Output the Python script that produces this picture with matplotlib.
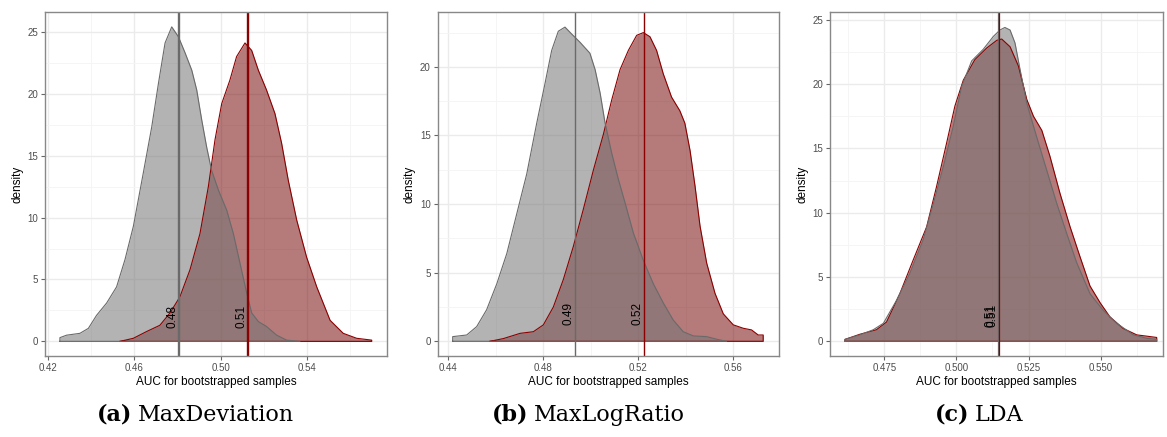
#!/usr/bin/env python3
"""Bootstrapped AUC densities for three scoring methods (grey vs. dark red)."""

import matplotlib

matplotlib.use("Agg")  # headless rendering
import matplotlib.pyplot as plt
import numpy as np


# ---- data ------------------------------------------------------------------
# (a) MaxDeviation
a_grey_x = [0.4254, 0.4285, 0.4347, 0.4386, 0.4424, 0.4471, 0.4517, 0.4556,
            0.4595, 0.4641, 0.4680, 0.4711, 0.4742, 0.4773, 0.4804, 0.4835,
            0.4866, 0.4889, 0.4912, 0.4935, 0.4958, 0.4990, 0.5028, 0.5059,
            0.5090, 0.5121, 0.5144, 0.5175, 0.5213, 0.5260, 0.5306, 0.5368]
a_grey_y = [0.3, 0.5, 0.65, 1.05, 2.1, 3.1, 4.4, 6.6,
            9.3, 13.6, 17.3, 20.8, 24.1, 25.4, 24.6, 23.3,
            21.9, 20.3, 17.9, 15.7, 13.8, 12.2, 10.6, 8.7,
            6.3, 3.9, 2.3, 1.6, 1.2, 0.5, 0.1, 0.0]
a_red_x = [0.4533, 0.4595, 0.4657, 0.4718, 0.4765, 0.4811, 0.4858, 0.4904,
           0.4943, 0.4974, 0.5005, 0.5043, 0.5074, 0.5113, 0.5144, 0.5175,
           0.5213, 0.5252, 0.5283, 0.5314, 0.5353, 0.5399, 0.5446, 0.5508,
           0.5569, 0.5631, 0.5701]
a_red_y = [0.0, 0.25, 0.8, 1.3, 2.3, 3.6, 5.8, 8.7,
           12.5, 16.3, 19.2, 21.1, 23.0, 24.1, 23.5, 21.9,
           20.3, 18.4, 16.0, 13.0, 9.8, 6.8, 4.4, 1.7,
           0.65, 0.25, 0.1]
a_means = [0.4807, 0.5127]

# (b) MaxLogRatio
b_grey_x = [0.4418, 0.4477, 0.4519, 0.4561, 0.4604, 0.4646, 0.4688, 0.4730,
            0.4772, 0.4807, 0.4835, 0.4863, 0.4891, 0.4919, 0.4954, 0.4996,
            0.5018, 0.5039, 0.5060, 0.5088, 0.5116, 0.5144, 0.5179, 0.5221,
            0.5263, 0.5305, 0.5347, 0.5389, 0.5432, 0.5488, 0.5530, 0.5572]
b_grey_y = [0.34, 0.46, 1.07, 2.3, 4.2, 6.4, 9.3, 12.2,
            15.9, 18.8, 21.2, 22.6, 22.9, 22.4, 21.8, 21.0,
            19.8, 18.1, 15.9, 13.7, 11.8, 10.1, 7.9, 5.9,
            4.2, 2.8, 1.55, 0.7, 0.39, 0.34, 0.15, 0.0]
b_red_x = [0.4575, 0.4632, 0.4702, 0.4758, 0.4800, 0.4842, 0.4884, 0.4926,
           0.4968, 0.5011, 0.5053, 0.5088, 0.5123, 0.5158, 0.5193, 0.5221,
           0.5249, 0.5277, 0.5305, 0.5340, 0.5375, 0.5396, 0.5418, 0.5439,
           0.5460, 0.5488, 0.5523, 0.5558, 0.5600, 0.5642, 0.5677, 0.5705,
           0.5726]
b_red_y = [0.0, 0.2, 0.58, 0.7, 1.2, 2.5, 4.5, 6.9,
           9.6, 12.5, 15.1, 17.6, 19.8, 21.2, 22.3, 22.5,
           22.2, 21.2, 19.5, 17.8, 16.8, 15.9, 13.9, 11.3,
           8.4, 5.7, 3.5, 2.0, 1.2, 0.95, 0.83, 0.46,
           0.46]
b_means = [0.4933, 0.5224]

# (c) LDA
c_grey_x = [0.4614, 0.4666, 0.4712, 0.4747, 0.4793, 0.4839, 0.4885, 0.4920,
            0.4955, 0.4989, 0.5018, 0.5053, 0.5093, 0.5128, 0.5151, 0.5168,
            0.5186, 0.5203, 0.5220, 0.5244, 0.5278, 0.5313, 0.5348, 0.5382,
            0.5417, 0.5463, 0.5509, 0.5556, 0.5613, 0.5660, 0.5694]
c_grey_y = [0.15, 0.5, 0.9, 1.4, 3.2, 5.3, 7.9, 10.7,
            13.6, 16.7, 19.8, 21.8, 22.7, 23.7, 24.2, 24.4,
            24.2, 23.2, 21.2, 18.5, 15.9, 13.3, 10.7, 8.4,
            6.1, 3.7, 2.4, 1.4, 0.5, 0.23, 0.15]
c_red_x = [0.4614, 0.4666, 0.4723, 0.4758, 0.4804, 0.4850, 0.4897, 0.4931,
           0.4966, 0.4995, 0.5024, 0.5064, 0.5105, 0.5140, 0.5157, 0.5186,
           0.5215, 0.5244, 0.5267, 0.5296, 0.5324, 0.5359, 0.5394, 0.5428,
           0.5463, 0.5498, 0.5532, 0.5578, 0.5625, 0.5660, 0.5694]
c_red_y = [0.15, 0.55, 0.9, 1.5, 3.7, 6.3, 8.9, 12.0,
           15.4, 18.3, 20.3, 21.9, 22.8, 23.4, 23.5, 22.9,
           21.4, 18.8, 17.5, 16.4, 14.4, 11.5, 8.9, 6.6,
           4.3, 3.0, 1.9, 1.0, 0.5, 0.4, 0.3]
c_means = [0.5143, 0.5149]

panel_letters = ["(a)", "(b)", "(c)"]
panel_names = ["MaxDeviation", "MaxLogRatio", "LDA"]
x_ticks = [[0.42, 0.46, 0.50, 0.54],
           [0.44, 0.48, 0.52, 0.56],
           [0.475, 0.500, 0.525, 0.550]]
x_tick_labels = [["0.42", "0.46", "0.50", "0.54"],
                 ["0.44", "0.48", "0.52", "0.56"],
                 ["0.475", "0.500", "0.525", "0.550"]]
y_ticks = [[0, 5, 10, 15, 20, 25],
           [0, 5, 10, 15, 20],
           [0, 5, 10, 15, 20, 25]]

# ---- styling ----------------------------------------------------------------
GREY_FILL = "#757575"
RED_FILL = "#780d0d"
GREY_LINE = "#6a6a6a"
RED_LINE = "#8b0000"
ALPHA = 0.55
SANS = "Liberation Sans"
SERIF = "DejaVu Serif"

# axes rectangles in figure fraction, plus data limits
AX_RECTS = [(0.0386, 0.1854, 0.2930, 0.7871),
            (0.3751, 0.1854, 0.2927, 0.7871),
            (0.7112, 0.1854, 0.2854, 0.7871)]
X_LIMS = [(0.4185, 0.5772), (0.4355, 0.5794), (0.4562, 0.5716)]
Y_LIMS = [(-1.18, 26.6), (-1.07, 24.0), (-1.14, 25.6)]
MEAN_LW = [1.7, 1.0, 0.9]
CAPTION_X = [97, 492, 935]  # left edge of each caption, pixels


def closed_outline(x, y):
    """Return the polygon outline of a density (baseline included)."""
    x = np.asarray(x)
    y = np.asarray(y)
    xs = np.concatenate([[x[0]], x, [x[-1], x[0]]])
    ys = np.concatenate([[0.0], y, [0.0, 0.0]])
    return xs, ys


def draw_panel(ax, idx, grey, red, means):
    # theme_bw-ish grid
    xt = np.array(x_ticks[idx])
    step = xt[1] - xt[0]
    minor_x = np.concatenate([[xt[0] - step / 2], xt + step / 2])
    yt = np.array(y_ticks[idx], dtype=float)
    minor_y = yt + 2.5
    ax.set_xticks(xt)
    ax.set_xticklabels(x_tick_labels[idx])
    ax.set_yticks(yt)
    ax.set_xticks(minor_x, minor=True)
    ax.set_yticks(minor_y, minor=True)
    # limits after the ticks, otherwise set_xticks widens them
    ax.set_xlim(*X_LIMS[idx])
    ax.set_ylim(*Y_LIMS[idx])
    ax.grid(which="major", color="#ebebeb", lw=1.0)
    ax.grid(which="minor", color="#f4f4f4", lw=0.6)
    ax.set_axisbelow(True)
    ax.tick_params(which="minor", length=0)
    ax.tick_params(which="major", length=3, width=0.8, color="#666666",
                   labelsize=7, labelcolor="#4d4d4d", pad=2)
    for lab in ax.get_xticklabels() + ax.get_yticklabels():
        lab.set_family(SANS)
    for sp in ax.spines.values():
        sp.set_color("#888888")
        sp.set_linewidth(1.0)

    # densities: red first, grey on top
    for (x, y), fill, line in ((red, RED_FILL, RED_LINE),
                               (grey, GREY_FILL, GREY_LINE)):
        ax.fill_between(x, y, 0, color=fill, alpha=ALPHA, lw=0)
        ox, oy = closed_outline(x, y)
        ax.plot(ox, oy, color=line, lw=0.8)

    # mean lines and labels
    for m, col in zip(means, (GREY_LINE, RED_LINE)):
        ax.axvline(m, color=col, lw=MEAN_LW[idx])
        ax.annotate(f"{m:.2f}", xy=(m, 2.0), xytext=(-4.8, 0),
                    textcoords="offset points", rotation=90,
                    ha="center", va="center", fontsize=8.5,
                    family=SANS, color="black")

    ax.set_xlabel("AUC for bootstrapped samples", fontsize=8.5,
                  family=SANS, labelpad=2)
    ax.set_ylabel("density", fontsize=8.5, family=SANS, labelpad=3)


def main():
    fig = plt.figure(figsize=(11.67, 4.37), dpi=100)
    panels = [((a_grey_x, a_grey_y), (a_red_x, a_red_y), a_means),
              ((b_grey_x, b_grey_y), (b_red_x, b_red_y), b_means),
              ((c_grey_x, c_grey_y), (c_red_x, c_red_y), c_means)]
    for idx, (grey, red, means) in enumerate(panels):
        ax = fig.add_axes(AX_RECTS[idx])
        draw_panel(ax, idx, grey, red, means)

        # caption: bold letter + regular name
        y_cap = 1 - 415 / 437
        t = fig.text(CAPTION_X[idx] / 1167, y_cap, panel_letters[idx],
                     fontsize=16, weight="bold", family=SERIF,
                     ha="left", va="center")
        ax.annotate(panel_names[idx], xy=(1, 0.5), xycoords=t,
                    xytext=(4, 0), textcoords="offset points",
                    fontsize=16, family=SERIF, ha="left", va="center",
                    annotation_clip=False)

    fig.savefig("out.png", dpi=100)


if __name__ == "__main__":
    main()
